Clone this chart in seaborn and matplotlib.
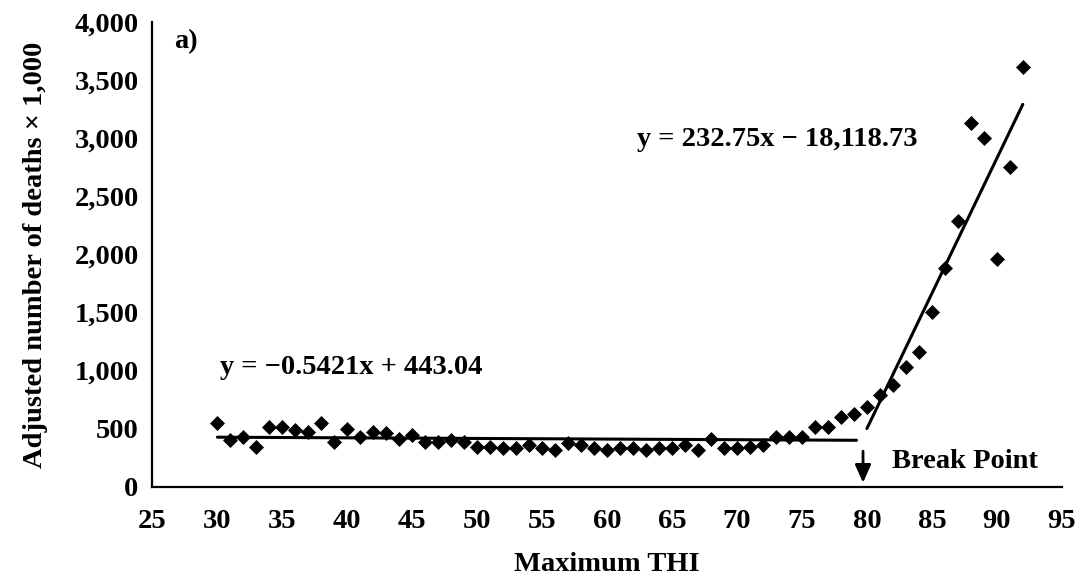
import numpy as np
import pandas as pd
import matplotlib
matplotlib.use("Agg")
import matplotlib.pyplot as plt
import seaborn as sns

# ---- data ----
thi = list(range(30, 93))
deaths = [547, 400, 431, 340, 517, 517, 489, 474, 547, 388,
          495, 426, 474, 460, 409, 446, 388, 388, 402, 388,
          340, 345, 331, 331, 359, 331, 316, 374, 359, 331,
          316, 331, 331, 316, 331, 331, 359, 316, 409, 331,
          331, 345, 359, 431, 431, 431, 512, 512, 598, 627,
          690, 790, 877, 1034, 1164, 1509, 1883, 2293, 3138, 3003,
          1960, 2753, 3616]

fit1_x = [30, 79.2]
fit1_coef = (-0.5421, 443.04)
fit2_x = [80, 92]
fit2_coef = (232.75, -18118.73)

xticks = list(range(25, 96, 5))
yticks = list(range(0, 4001, 500))

sns.set_theme(style="white")
plt.rcParams['font.family'] = ['Liberation Serif', 'DejaVu Serif']
plt.rcParams['font.weight'] = 'bold'
plt.rcParams['text.color'] = 'black'
plt.rcParams['axes.labelcolor'] = 'black'

FS = 20.5

fig = plt.figure(figsize=(10.89, 5.76), dpi=100)
ax = fig.add_axes([0.140, 0.155, 0.835, 0.806])

df = pd.DataFrame({"THI": thi, "deaths": deaths})
sns.scatterplot(data=df, x="THI", y="deaths", marker="D", color="black",
                edgecolor="black", s=50, ax=ax, zorder=3, legend=False)

for xs, (m, b) in [(fit1_x, fit1_coef), (fit2_x, fit2_coef)]:
    xs = np.array(xs, dtype=float)
    ax.plot(xs, m * xs + b, color="black", lw=2.2, zorder=2)

ax.set_xlim(25, 95)
ax.set_ylim(0, 4000)
ax.set_xticks(xticks)
ax.set_yticks(yticks)
ax.set_yticklabels([f"{v:,}" for v in yticks])
ax.set_xticklabels([str(v) for v in xticks])
for s in ["top", "right"]:
    ax.spines[s].set_visible(False)
for s in ["left", "bottom"]:
    ax.spines[s].set_color("black")
    ax.spines[s].set_linewidth(1.6)
ax.tick_params(axis="both", direction="out", length=7, width=1.6,
               colors="black", labelsize=FS, pad=3)
ax.tick_params(axis="x", pad=9)
for lab in ax.get_xticklabels() + ax.get_yticklabels():
    lab.set_fontweight("bold")

ax.set_xlabel("Maximum THI", fontsize=FS, fontweight="bold", labelpad=13)
ax.set_ylabel("Adjusted number of deaths × 1,000", fontsize=FS,
              fontweight="bold", labelpad=19)

ax.text(26.7, 3833, "a)", fontsize=FS, fontweight="bold", va="center")
ax.text(62.3, 2990, "y = 232.75x \u2212 18,118.73", fontsize=FS,
        fontweight="bold", va="center")
ax.text(30.2, 1023, "y = \u22120.5421x + 443.04", fontsize=FS,
        fontweight="bold", va="center")
ax.text(81.9, 220, "Break Point", fontsize=FS, fontweight="bold", va="center")
ax.annotate("", xy=(79.7, 10), xytext=(79.7, 330),
            arrowprops=dict(arrowstyle="-|>,head_length=0.9,head_width=0.4",
                            color="black", lw=2))

fig.savefig("out.png", dpi=100, facecolor="white")
